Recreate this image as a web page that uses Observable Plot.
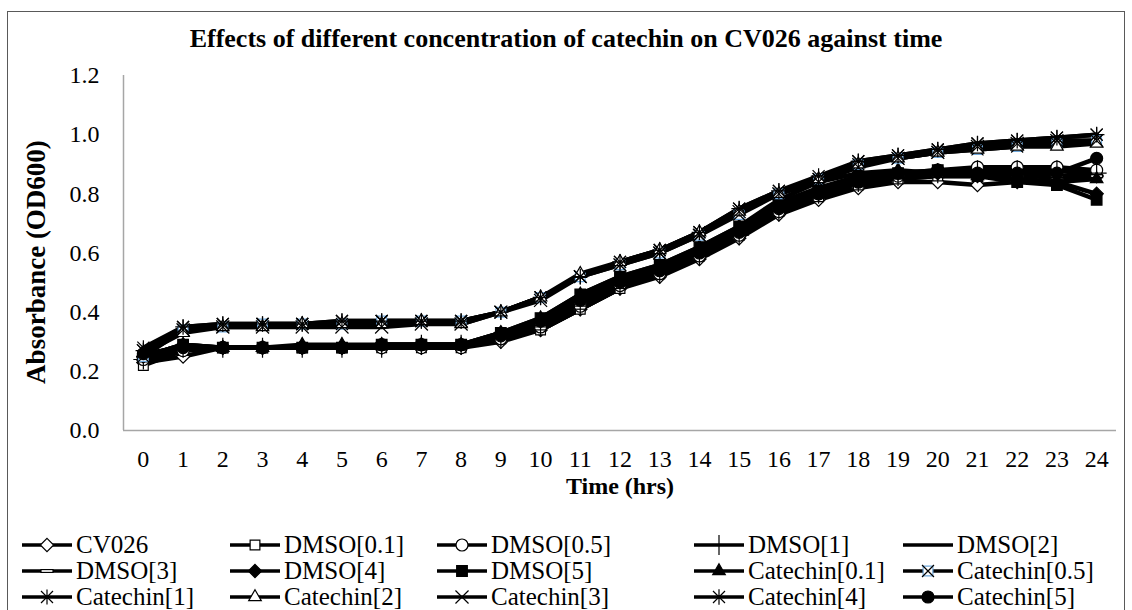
<!DOCTYPE html>
<html>
<head>
<meta charset="utf-8">
<script src="https://cdn.jsdelivr.net/npm/d3@7"></script>
<script src="https://cdn.jsdelivr.net/npm/@observablehq/plot@0.6"></script>
<style>
  body { margin:0; background:#fff; }
  #wrap { position:relative; width:1132px; height:610px; overflow:hidden; font-family:"Liberation Serif", serif; color:#000; }
  #frame { position:absolute; left:7px; top:11px; width:1118px; height:640px; border:1px solid #595959; box-sizing:border-box; }
  #chart { position:absolute; left:0; top:0; }
  #chart svg text { font-family:"Liberation Serif", serif; }
  #title { position:absolute; left:0; width:1132px; top:24px; text-align:center; font-weight:bold; font-size:26px; line-height:30px; font-family:"Liberation Serif", serif; }
  #ylab { position:absolute; left:36px; top:262px; transform:translate(-50%,-50%) rotate(-90deg); font-weight:bold; font-size:27px; white-space:nowrap; font-family:"Liberation Serif", serif; }
  #xlab { position:absolute; left:620px; top:486px; transform:translate(-50%,-50%); font-weight:bold; font-size:24px; white-space:nowrap; font-family:"Liberation Serif", serif; }
  .leg { position:absolute; display:flex; align-items:center; font-size:25px; white-space:nowrap; transform:translateY(-50%); font-family:"Liberation Serif", serif; }
  .leg svg { margin-right:4px; }
</style>
</head>
<body>
<div id="wrap">
  <div id="frame"></div>
  <div id="chart"></div>
  <div id="title">Effects of different concentration of catechin on CV026 against time</div>
  <div id="ylab">Absorbance (OD600)</div>
  <div id="xlab">Time (hrs)</div>
  <div id="legend"></div>
</div>
<script>
// ---- data ----
const hours = [0,1,2,3,4,5,6,7,8,9,10,11,12,13,14,15,16,17,18,19,20,21,22,23,24];
const yTicks = [0,0.2,0.4,0.6,0.8,1.0,1.2];

const cv026    = [0.23,0.25,0.28,0.28,0.28,0.28,0.28,0.28,0.28,0.30,0.34,0.41,0.48,0.52,0.58,0.65,0.73,0.78,0.82,0.84,0.84,0.83,0.84,0.85,0.86];
const dmso01   = [0.22,0.27,0.28,0.28,0.28,0.28,0.28,0.28,0.28,0.31,0.34,0.41,0.48,0.53,0.59,0.66,0.74,0.79,0.83,0.85,0.86,0.86,0.86,0.86,0.87];
const dmso05   = [0.24,0.27,0.28,0.28,0.28,0.28,0.28,0.28,0.28,0.31,0.35,0.42,0.49,0.53,0.59,0.66,0.74,0.80,0.84,0.86,0.88,0.89,0.89,0.89,0.88];
const dmso1    = [0.24,0.28,0.28,0.28,0.28,0.28,0.28,0.29,0.29,0.31,0.35,0.42,0.49,0.53,0.59,0.66,0.74,0.80,0.84,0.86,0.87,0.88,0.88,0.88,0.87];
const dmso2    = [0.24,0.28,0.28,0.28,0.28,0.28,0.28,0.28,0.28,0.31,0.34,0.41,0.48,0.53,0.59,0.66,0.74,0.79,0.83,0.85,0.86,0.86,0.86,0.86,0.86];
const dmso3    = [0.25,0.28,0.28,0.28,0.28,0.28,0.29,0.29,0.29,0.32,0.36,0.43,0.50,0.54,0.60,0.67,0.75,0.80,0.84,0.86,0.86,0.86,0.86,0.86,0.86];
const dmso4    = [0.25,0.29,0.28,0.28,0.28,0.28,0.29,0.29,0.29,0.33,0.37,0.45,0.51,0.55,0.61,0.68,0.76,0.81,0.85,0.87,0.87,0.86,0.85,0.84,0.80];
const dmso5    = [0.25,0.29,0.28,0.28,0.28,0.28,0.29,0.29,0.29,0.33,0.38,0.46,0.52,0.56,0.62,0.69,0.77,0.82,0.86,0.87,0.88,0.86,0.84,0.83,0.78];
const cat01    = [0.25,0.29,0.28,0.28,0.29,0.29,0.29,0.29,0.29,0.33,0.38,0.46,0.52,0.56,0.62,0.69,0.78,0.84,0.87,0.88,0.87,0.86,0.85,0.84,0.85];
const cat05    = [0.25,0.34,0.35,0.36,0.36,0.36,0.37,0.37,0.37,0.40,0.45,0.52,0.56,0.60,0.66,0.73,0.80,0.85,0.90,0.92,0.94,0.95,0.96,0.97,0.98];
const cat1     = [0.28,0.35,0.36,0.36,0.36,0.37,0.37,0.37,0.37,0.40,0.45,0.52,0.57,0.61,0.67,0.75,0.81,0.85,0.91,0.93,0.95,0.97,0.98,0.99,1.00];
const cat2     = [0.26,0.33,0.35,0.35,0.36,0.36,0.36,0.37,0.36,0.40,0.45,0.53,0.57,0.61,0.67,0.74,0.80,0.85,0.90,0.92,0.94,0.95,0.96,0.96,0.97];
const cat3     = [0.27,0.34,0.35,0.35,0.35,0.35,0.35,0.36,0.36,0.40,0.44,0.52,0.56,0.60,0.66,0.74,0.80,0.84,0.89,0.92,0.94,0.96,0.97,0.98,0.98];
const cat4     = [0.27,0.35,0.36,0.36,0.36,0.37,0.37,0.37,0.37,0.40,0.45,0.52,0.57,0.61,0.67,0.75,0.81,0.86,0.91,0.93,0.95,0.97,0.98,0.99,1.00];
const cat5     = [0.26,0.28,0.28,0.28,0.28,0.28,0.29,0.29,0.29,0.32,0.37,0.44,0.50,0.54,0.60,0.67,0.75,0.80,0.84,0.87,0.88,0.87,0.87,0.87,0.92];

const seriesNames = ["CV026","DMSO[0.1]","DMSO[0.5]","DMSO[1]","DMSO[2]","DMSO[3]","DMSO[4]","DMSO[5]",
  "Catechin[0.1]","Catechin[0.5]","Catechin[1]","Catechin[2]","Catechin[3]","Catechin[4]","Catechin[5]"];
const seriesValues = [cv026,dmso01,dmso05,dmso1,dmso2,dmso3,dmso4,dmso5,cat01,cat05,cat1,cat2,cat3,cat4,cat5];

// ---- marker styles ----
const rad = s => Math.sqrt(s / Math.PI);
const symDash = {draw(c, s){const r = rad(s); c.moveTo(-r,0); c.lineTo(r,0);}};
const symBar  = {draw(c, s){const r = rad(s); c.moveTo(-r,-1.5); c.lineTo(r,-1.5); c.lineTo(r,1.5); c.lineTo(-r,1.5); c.closePath();}};
const symStar = {draw(c, s){const r = rad(s); c.moveTo(-r,-r); c.lineTo(r,r); c.moveTo(-r,r); c.lineTo(r,-r); c.moveTo(0,-r*1.25); c.lineTo(0,r*1.25);}};
const symAst8 = {draw(c, s){const r = rad(s); c.moveTo(-r,-r); c.lineTo(r,r); c.moveTo(-r,r); c.lineTo(r,-r); c.moveTo(0,-r*1.3); c.lineTo(0,r*1.3); c.moveTo(-r*1.3,0); c.lineTo(r*1.3,0);}};

const markerStyles = [
  [{symbol:"diamond2", fill:"white", stroke:"black", r:6}],
  [{symbol:"square", fill:"white", stroke:"black", r:5.5}],
  [{symbol:"circle", fill:"white", stroke:"black", r:6}],
  [{symbol:"plus", fill:"none", stroke:"black", r:6.5}],
  [{symbol:symDash, fill:"none", stroke:"black", r:6}],
  [{symbol:symBar, fill:"#d9d9d9", stroke:"black", r:6}],
  [{symbol:"diamond2", fill:"black", stroke:"black", r:6}],
  [{symbol:"square", fill:"black", stroke:"black", r:6}],
  [{symbol:"triangle2", fill:"black", stroke:"black", r:6}],
  [{symbol:"square", fill:"white", stroke:"#6fa8dc", r:5.5},{symbol:"times", fill:"none", stroke:"black", r:5.5}],
  [{symbol:symStar, fill:"none", stroke:"black", r:6}],
  [{symbol:"triangle2", fill:"white", stroke:"black", r:6}],
  [{symbol:"times", fill:"none", stroke:"black", r:6}],
  [{symbol:symAst8, fill:"none", stroke:"black", r:6}],
  [{symbol:"circle", fill:"black", stroke:"black", r:6}]
];

const rows = seriesNames.flatMap((name, k) => seriesValues[k].map((v, i) => ({name, hour: hours[i], value: v})));

const marks = [
  Plot.ruleY([0], {stroke:"#a6a6a6", strokeWidth:1.5}),
  Plot.ruleX([-0.5], {stroke:"#a6a6a6", strokeWidth:1.5})
];
seriesNames.forEach((name, k) => {
  const d = rows.filter(r => r.name === name);
  marks.push(Plot.line(d, {x:"hour", y:"value", stroke:"black", strokeWidth:4.5, strokeLinejoin:"round"}));
});
seriesNames.forEach((name, k) => {
  const d = rows.filter(r => r.name === name);
  markerStyles[k].forEach(m => {
    marks.push(Plot.dot(d, {x:"hour", y:"value", symbol:m.symbol, r:m.r, fill:m.fill, stroke:m.stroke, strokeWidth:1.2}));
  });
});

const chart = Plot.plot({
  width:1132, height:500,
  marginLeft:123, marginRight:16, marginTop:75, marginBottom:70,
  style:{fontFamily:"'Liberation Serif', serif", fontSize:"24px", color:"#000", background:"transparent", overflow:"visible"},
  x:{domain:[-0.5,24.5], ticks:hours, tickFormat:d=>String(d), tickSize:0, tickPadding:19, label:null},
  y:{domain:[0,1.2], ticks:yTicks, tickFormat:d3.format(".1f"), tickSize:0, tickPadding:24, label:null},
  marks
});
document.getElementById("chart").appendChild(chart);

// ---- legend ----
const legCols = [22, 230, 437, 694, 903];
const legRows = [545, 571, 597];
const legend = document.getElementById("legend");
const symMap = {diamond2:d3.symbolDiamond2, square:d3.symbolSquare, circle:d3.symbolCircle, plus:d3.symbolPlus, triangle2:d3.symbolTriangle2, times:d3.symbolTimes};
seriesNames.forEach((name, k) => {
  const col = k % 5, row = Math.floor(k / 5);
  const div = document.createElement("div");
  div.className = "leg";
  div.style.left = legCols[col] + "px";
  div.style.top = legRows[row] + "px";
  const svg = d3.create("svg").attr("width", 50).attr("height", 24);
  svg.append("line").attr("x1",0).attr("x2",50).attr("y1",12).attr("y2",12).attr("stroke","black").attr("stroke-width",3.5);
  markerStyles[k].forEach(m => {
    const type = typeof m.symbol === "string" ? symMap[m.symbol] : m.symbol;
    svg.append("path").attr("transform","translate(25,12)")
      .attr("d", d3.symbol(type, m.r*m.r*Math.PI)())
      .attr("fill", m.fill).attr("stroke", m.stroke).attr("stroke-width",1.2);
  });
  div.appendChild(svg.node());
  const span = document.createElement("span");
  span.textContent = name;
  div.appendChild(span);
  legend.appendChild(div);
});
</script>
</body>
</html>
